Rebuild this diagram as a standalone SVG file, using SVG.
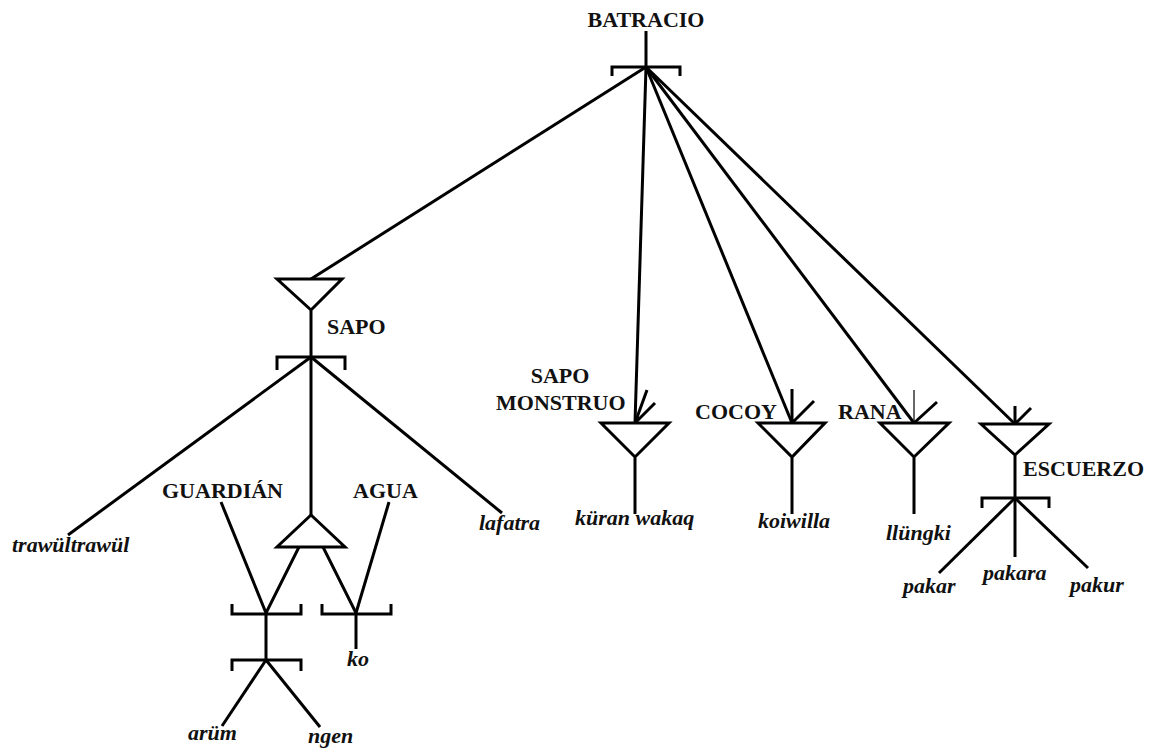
<svg xmlns="http://www.w3.org/2000/svg" width="1151" height="751" viewBox="0 0 1151 751">
  <style>
    .ln { stroke: #000; stroke-width: 3; fill: none; stroke-linecap: butt; stroke-linejoin: miter; }
    .thin { stroke: #000; stroke-width: 1.2; fill: none; }
    .lbl { font-family: "Liberation Serif", "Times New Roman", serif; font-weight: bold; font-size: 22px; fill: #111; }
    .word { font-family: "Liberation Serif", "Times New Roman", serif; font-weight: bold; font-style: italic; font-size: 22px; fill: #111; }
  </style>
  <rect width="1151" height="751" fill="#fff"/>

  <!-- connectors -->
  <g id="connectors" class="ln">
    <!-- from BATRACIO -->
    <line x1="646" y1="67" x2="311" y2="279"/>
    <line x1="646" y1="67" x2="635" y2="423"/>
    <line x1="646" y1="67" x2="792" y2="423"/>
    <line x1="646" y1="67" x2="914" y2="423"/>
    <line x1="646" y1="67" x2="1015" y2="424"/>
    <!-- from SAPO -->
    <line x1="311" y1="357" x2="68" y2="535"/>
    <line x1="311" y1="357" x2="502" y2="513"/>
    <line x1="311" y1="357" x2="311" y2="515"/>
    <!-- GUARDIÁN / AGUA -->
    <line x1="221" y1="502" x2="266" y2="613"/>
    <line x1="299" y1="547" x2="266" y2="613"/>
    <line x1="323" y1="547" x2="356" y2="613"/>
    <line x1="389" y1="502" x2="356" y2="613"/>
    <line x1="266" y1="613" x2="266" y2="660"/>
    <line x1="356" y1="613" x2="356" y2="649"/>
    <line x1="266" y1="660" x2="222" y2="726"/>
    <line x1="266" y1="660" x2="320" y2="727"/>
    <!-- ESCUERZO -->
    <line x1="1015" y1="498" x2="939" y2="573"/>
    <line x1="1015" y1="498" x2="1015" y2="557"/>
    <line x1="1015" y1="498" x2="1088" y2="568"/>
  </g>

  <g id="batracio">
    <text class="lbl" x="646" y="27" text-anchor="middle">BATRACIO</text>
    <path class="ln" d="M646 31 V67 M612 76 V67 H680 V76"/>
  </g>

  <g id="sapo">
    <path class="ln" d="M277 279 H342 L311 310 Z M311 310 V357 M277 370 V357 H345 V370"/>
    <text class="lbl" x="327" y="334">SAPO</text>
  </g>

  <g id="trawultrawul">
    <text class="word" x="12" y="552">trawültrawül</text>
  </g>

  <g id="lafatra">
    <text class="word" x="479" y="530">lafatra</text>
  </g>

  <g id="guardian">
    <text class="lbl" x="162" y="498">GUARDIÁN</text>
  </g>

  <g id="agua">
    <text class="lbl" x="353" y="498">AGUA</text>
  </g>

  <g id="junction">
    <path class="ln" d="M311 515 L345 547 H277 Z"/>
  </g>

  <g id="bracket-left">
    <path class="ln" d="M232 604 V614 H301 V604"/>
    <path class="ln" d="M232 671 V660 H301 V671"/>
  </g>

  <g id="bracket-right">
    <path class="ln" d="M322 604 V614 H391 V604"/>
  </g>

  <g id="ko">
    <text class="word" x="347" y="666">ko</text>
  </g>

  <g id="arum">
    <text class="word" x="188" y="740">arüm</text>
  </g>

  <g id="ngen">
    <text class="word" x="308" y="743">ngen</text>
  </g>

  <g id="sapo-monstruo">
    <text class="lbl" x="560" y="383" text-anchor="middle">SAPO</text>
    <text class="lbl" x="496" y="410">MONSTRUO</text>
    <path class="ln" d="M647 390 L635 423 M655 403 L635 423"/>
    <path class="ln" d="M601 423 H669 L635 457 Z M635 457 V514"/>
    <text class="word" x="575" y="525">küran wakaq</text>
  </g>

  <g id="cocoy">
    <text class="lbl" x="695" y="419">COCOY</text>
    <path class="ln" d="M792 389 V423 M814 401 L792 423"/>
    <path class="ln" d="M758 423 H825 L792 457 Z M792 457 V514"/>
    <text class="word" x="758" y="528">koiwilla</text>
  </g>

  <g id="rana">
    <text class="lbl" x="838" y="419">RANA</text>
    <path class="thin" d="M914 390 V423"/>
    <path class="ln" d="M937 402 L914 423"/>
    <path class="ln" d="M880 423 H949 L914 457 Z M914 457 V514"/>
    <text class="word" x="886" y="540">llüngki</text>
  </g>

  <g id="escuerzo">
    <path class="ln" d="M1015 406 V424 M1031 408 L1015 424"/>
    <path class="ln" d="M981 424 H1049 L1015 455 Z M1015 455 V498 M982 508 V498 H1049 V508"/>
    <text class="lbl" x="1023" y="476">ESCUERZO</text>
  </g>

  <g id="pakar">
    <text class="word" x="903" y="593">pakar</text>
  </g>

  <g id="pakara">
    <text class="word" x="983" y="580">pakara</text>
  </g>

  <g id="pakur">
    <text class="word" x="1070" y="592">pakur</text>
  </g>
</svg>
